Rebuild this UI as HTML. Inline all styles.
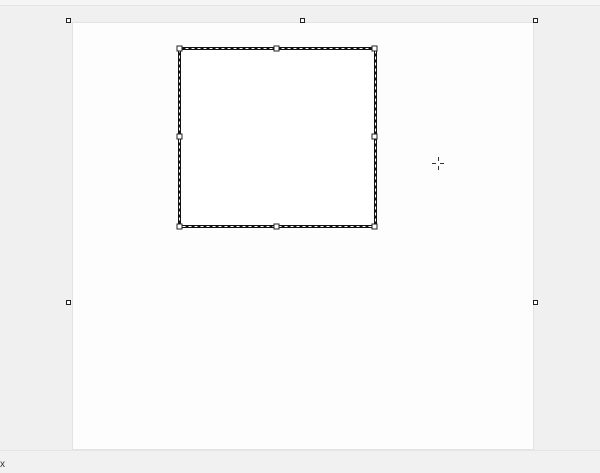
<!DOCTYPE html>
<html><head><style>
body{margin:0;width:600px;height:472px;background:#f1f0f1;position:relative;overflow:hidden;font-family:"Liberation Sans",sans-serif}
.top{position:absolute;left:0;top:0;width:600px;height:5px;background:#f6f5f6;border-bottom:1px solid #e6e5e6}
.page{position:absolute;left:72px;top:22px;width:462px;height:428px;background:#fefdfe;border:1px solid #e4e3e4;box-sizing:border-box}
.status{position:absolute;left:0;top:450px;width:600px;height:22px;background:#f2f1f2;border-top:1px solid #e6e5e6}
.status span{position:absolute;left:0;top:8px;font-size:10px;color:#333}
.h{position:absolute;width:5px;height:5px;border:1px solid #222;background:#fff;box-sizing:border-box}
</style></head><body>
<div class="top"></div>
<div class="page"></div>
<div class="h" style="left:66px;top:18px"></div>
<div class="h" style="left:300px;top:18px"></div>
<div class="h" style="left:533px;top:18px"></div>
<div class="h" style="left:66px;top:300px"></div>
<div class="h" style="left:533px;top:300px"></div>
<svg style="position:absolute;left:0;top:0" width="600" height="472">
<rect x="179.5" y="48.5" width="196" height="178" fill="#fff" stroke="#111" stroke-width="3"/>
<rect x="179.5" y="48.5" width="196" height="178" fill="none" stroke="#fff" stroke-width="1" stroke-dasharray="3,3"/>
<g fill="#fff" stroke="#222" stroke-width="1">
<rect x="177" y="46" width="5" height="5"/><rect x="274" y="46" width="5" height="5"/><rect x="372" y="46" width="5" height="5"/>
<rect x="177" y="134" width="5" height="5"/><rect x="372" y="134" width="5" height="5"/>
<rect x="177" y="224" width="5" height="5"/><rect x="274" y="224" width="5" height="5"/><rect x="372" y="224" width="5" height="5"/>
</g>
<g stroke="#333" stroke-width="1">
<line x1="432" y1="163.5" x2="436" y2="163.5"/><line x1="440" y1="163.5" x2="444" y2="163.5"/>
<line x1="438.5" y1="157" x2="438.5" y2="161"/><line x1="438.5" y1="166" x2="438.5" y2="170"/>
</g>
</svg>
<div class="status"><span>x</span></div>
</body></html>
